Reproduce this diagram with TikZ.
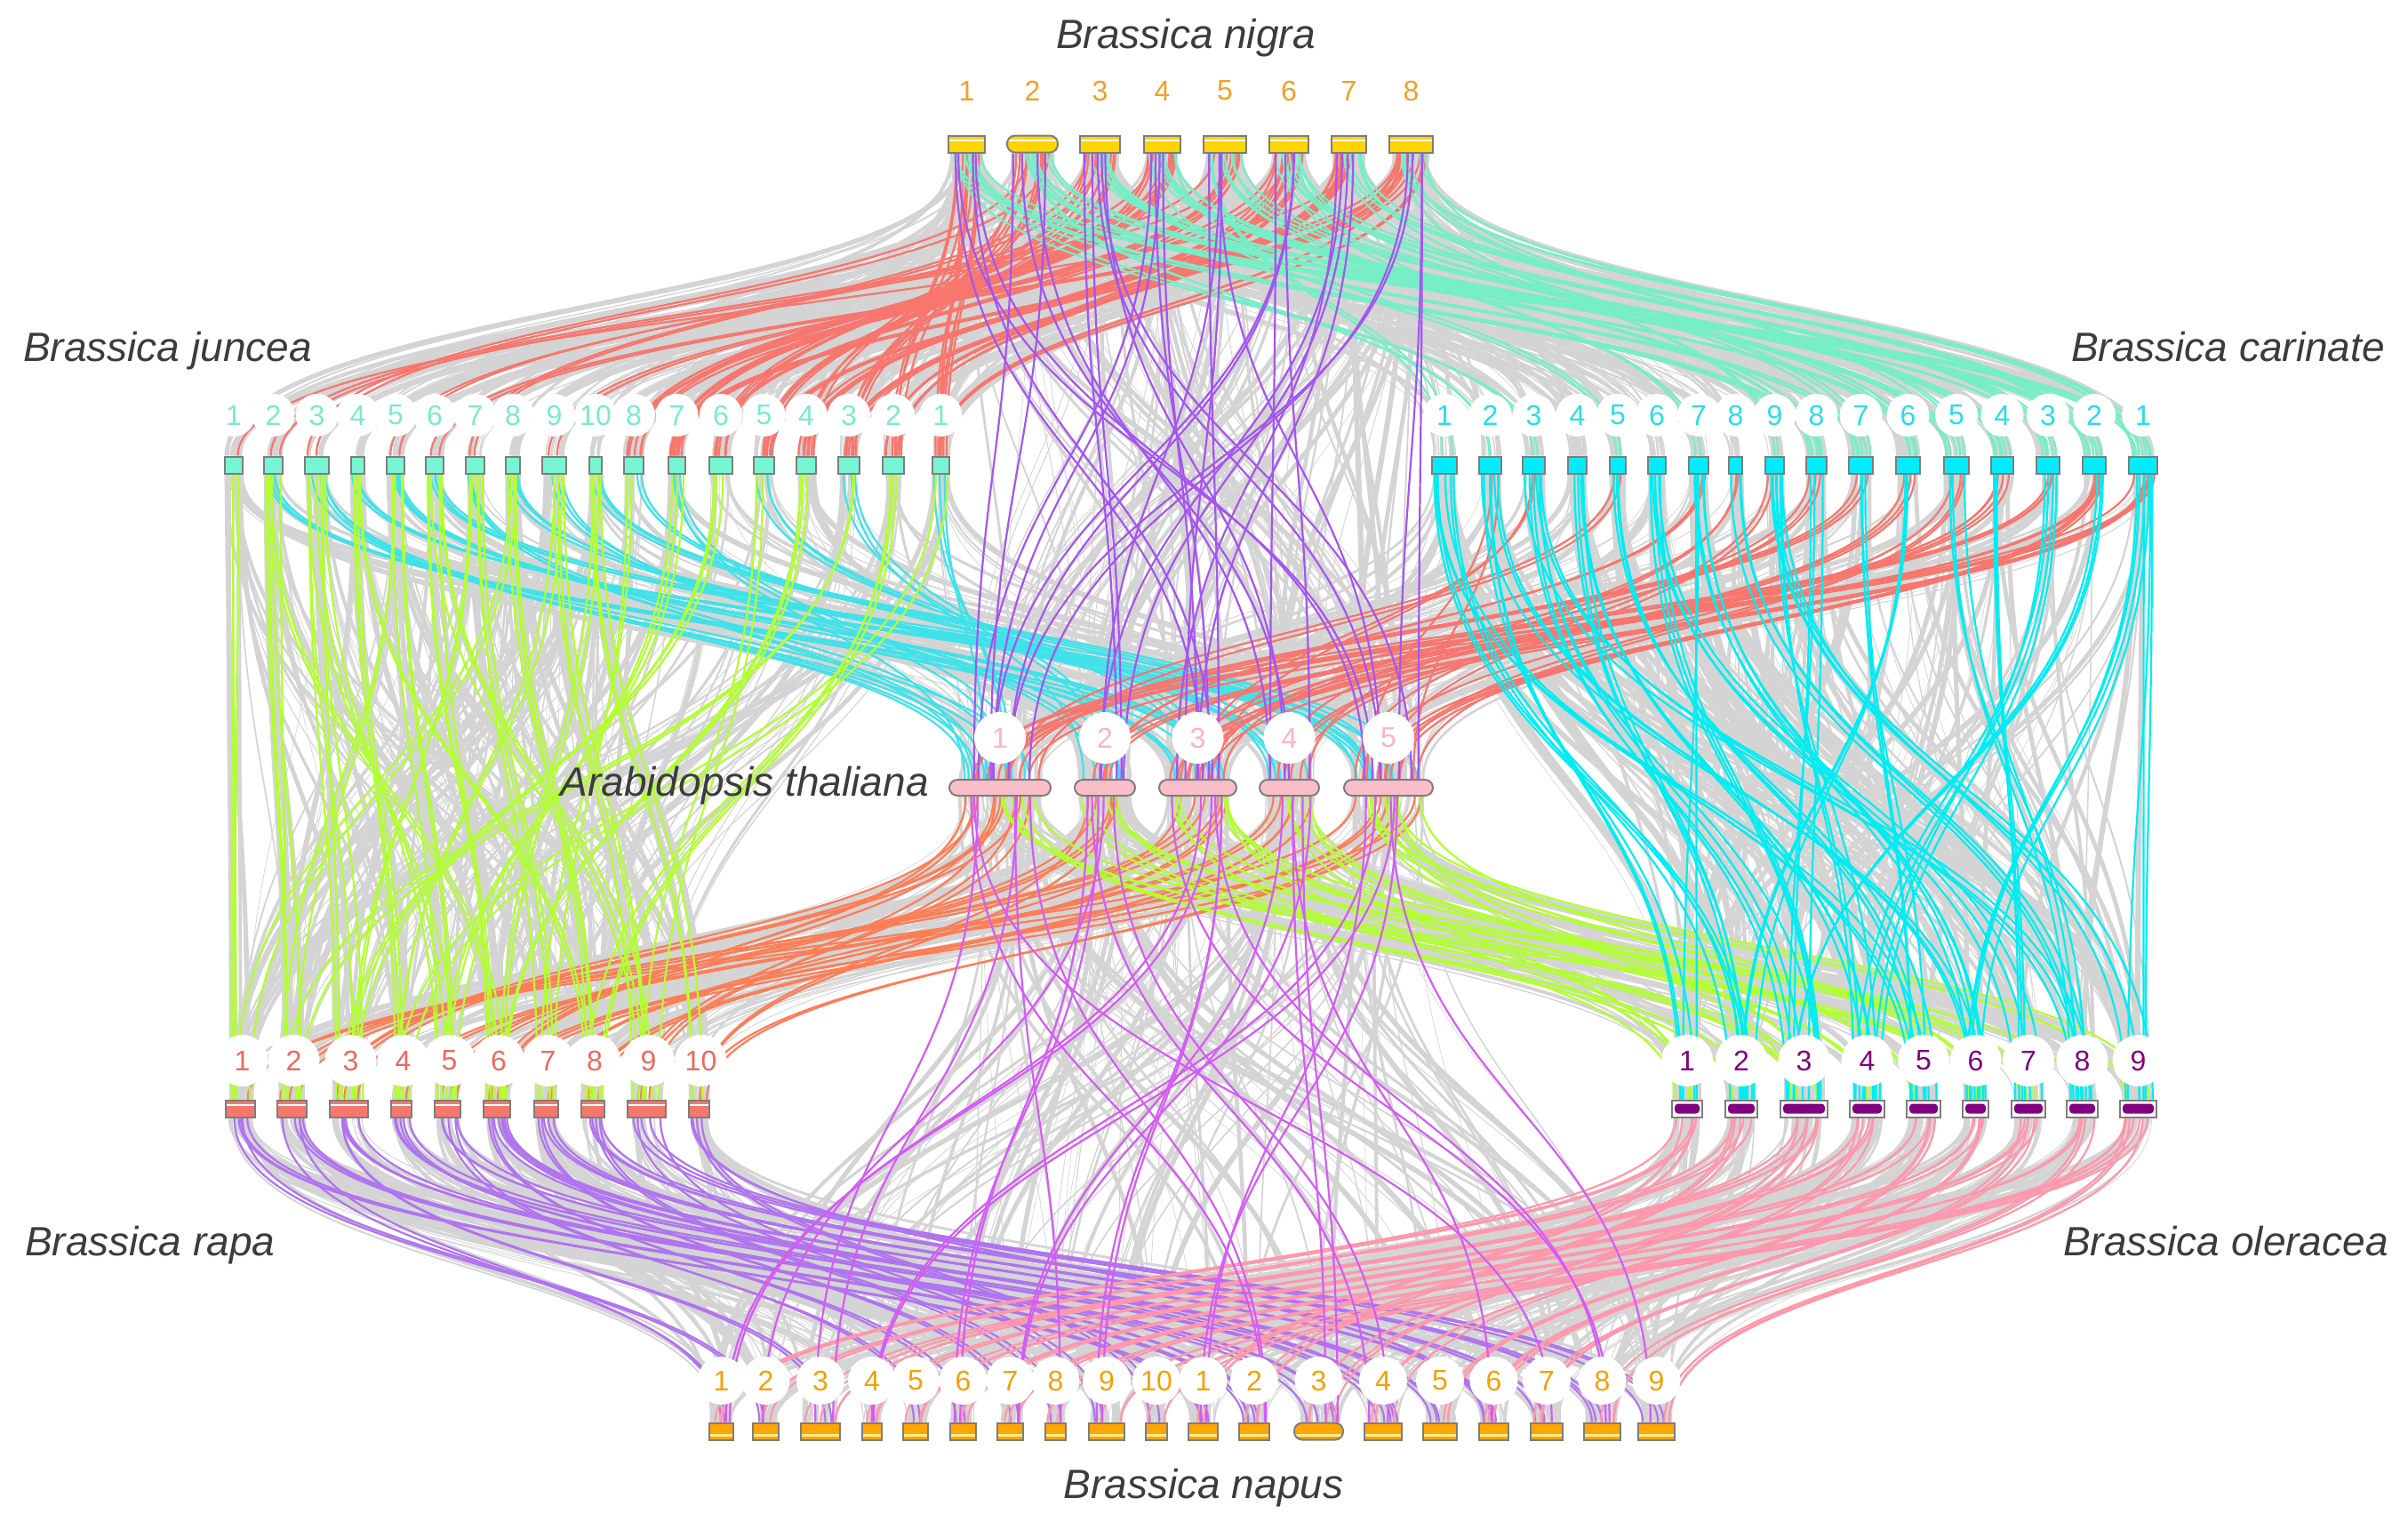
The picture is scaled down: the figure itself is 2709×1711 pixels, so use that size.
\documentclass[tikz,border=0pt]{standalone}
\usepackage{fontspec}
\setmainfont{Liberation Sans}
\usetikzlibrary{calc}
\pgfdeclarelayer{bgl}
\pgfdeclarelayer{links}
\pgfsetlayers{bgl,links,main}
\definecolor{bxg}{RGB}{125,125,125}
\definecolor{cgold}{RGB}{255,212,0}
\definecolor{caquab}{RGB}{120,245,210}
\definecolor{ccyanb}{RGB}{0,236,250}
\definecolor{cpinkb}{RGB}{250,190,200}
\definecolor{csalb}{RGB}{246,120,108}
\definecolor{cpurpb}{RGB}{128,0,128}
\definecolor{corange}{RGB}{255,165,0}
\definecolor{cyell}{RGB}{255,240,150}
\definecolor{ctxt}{RGB}{60,60,60}
\definecolor{lnig}{RGB}{240,160,40}
\definecolor{ljun}{RGB}{120,235,205}
\definecolor{lcar}{RGB}{40,222,232}
\definecolor{lara}{RGB}{250,182,192}
\definecolor{lrap}{RGB}{235,105,95}
\definecolor{lole}{RGB}{128,0,128}
\definecolor{lnap}{RGB}{245,160,0}
\definecolor{cgray}{RGB}{212,212,212}
\definecolor{cred}{RGB}{248,118,109}
\definecolor{caqua}{RGB}{118,238,198}
\definecolor{cpurp}{RGB}{165,85,240}
\definecolor{ccyan}{RGB}{64,226,234}
\definecolor{ccyan2}{RGB}{0,236,242}
\definecolor{cgy}{RGB}{178,255,50}
\definecolor{ccoral}{RGB}{255,125,85}
\definecolor{cmag}{RGB}{212,92,246}
\definecolor{cmpurp}{RGB}{176,116,240}
\definecolor{cpink}{RGB}{255,152,172}
\newcommand\gap{170}
% one bundle of links between two named chromosome nodes
\newcommand\cl[4]{%
  \foreach \k in {1,...,#2}{%
    \pgfmathsetmacro\ta{0.12+0.76*rnd}%
    \pgfmathsetmacro\tb{0.12+0.76*rnd}%
    \coordinate (s) at ($(#3.south west)!\ta!(#3.south east)$);%
    \coordinate (t) at ($(#4.north west)!\tb!(#4.north east)$);%
    \draw[#1] (s) .. controls ($(s)+(0,\gap)$) and ($(t)+(0,-\gap)$) .. (t);%
  }}
\newcommand\cls[2]{\foreach \pa/\pb/\pc in {#2}{\cl{#1}{\pc}{\pa}{\pb}}}
% random gray links between two rows of chromosomes
\newcommand\gb[7]{%
  \foreach \k in {1,...,#1}{%
    \pgfmathtruncatemacro\ia{random(#3,#4)}%
    \pgfmathtruncatemacro\ib{random(#6,#7)}%
    \pgfmathsetmacro\ta{0.1+0.8*rnd}%
    \pgfmathsetmacro\tb{0.1+0.8*rnd}%
    \pgfmathsetmacro\lw{0.6+5.5*pow(rnd,2)}%
    \coordinate (s) at ($(#2\ia.south west)!\ta!(#2\ia.south east)$);%
    \coordinate (t) at ($(#5\ib.north west)!\tb!(#5\ib.north east)$);%
    \draw[cgray,line width=\lw pt] (s) .. controls ($(s)+(0,\gap)$) and ($(t)+(0,-\gap)$) .. (t);%
  }}
\tikzset{
 stripe/.style={path picture={\draw[white,line width=2pt] ([yshift=-5pt]path picture bounding box.north west) -- ([yshift=-5pt]path picture bounding box.north east);}},
 nb/.style={draw=bxg, line width=2pt, fill=cgold, minimum height=19pt, inner sep=0pt, stripe},
 nbr/.style={nb, rounded corners=9pt},
 jb/.style={draw=bxg, line width=2pt, fill=caquab, minimum height=19pt, inner sep=0pt},
 cb/.style={jb, fill=ccyanb},
 ab/.style={draw=bxg, line width=2pt, fill=cpinkb, minimum height=18pt, inner sep=0pt, rounded corners=9pt},
 rb/.style={draw=bxg, line width=2pt, fill=csalb, minimum height=19pt, inner sep=0pt, stripe},
 ob/.style={draw=bxg, line width=2pt, fill=white, minimum height=19pt, inner sep=0pt, path picture={\fill[cpurpb, rounded corners=4pt] ([xshift=3pt,yshift=-4pt]path picture bounding box.north west) rectangle ([xshift=-3pt,yshift=4pt]path picture bounding box.south east);}},
 pb/.style={draw=bxg, line width=2pt, fill=corange, minimum height=19pt, inner sep=0pt, path picture={\draw[cyell,line width=2.5pt] ([yshift=5pt]path picture bounding box.south west) -- ([yshift=5pt]path picture bounding box.south east);}},
 pbr/.style={pb, rounded corners=9pt},
 lab/.style={inner sep=0pt, font=\fontsize{32}{34}\selectfont},
 halo/.style={lab, circle, fill=white, minimum size=#1},
 sp/.style={inner sep=0pt, font=\fontsize{46}{50}\selectfont\itshape, text=ctxt},
 lred/.style={draw=cred, line width=2.2pt},
 laqua/.style={draw=caqua, line width=2.2pt},
 lpurp/.style={draw=cpurp, line width=2.2pt},
 lcyan/.style={draw=ccyan, line width=2.2pt},
 lcyan2/.style={draw=ccyan2, line width=2.2pt},
 lgy/.style={draw=cgy, line width=2.2pt},
 lcoral/.style={draw=ccoral, line width=2.2pt},
 lmag/.style={draw=cmag, line width=2.2pt},
 lmpurp/.style={draw=cmpurp, line width=2.2pt},
 lpink/.style={draw=cpink, line width=2.2pt},
 lgray/.style={draw=cgray, line width=5pt},
}
\begin{document}
\begin{tikzpicture}[x=1pt,y=-1pt]
\pgfmathsetseed{7}
\begin{pgfonlayer}{bgl}
\fill[white] (0,0) rectangle (2709,1711);
\end{pgfonlayer}
\useasboundingbox (0,0) rectangle (2709,1711);
% ---------- chromosome boxes ----------
\foreach \x/\w/\s [count=\i] in {1087.5/41/nb, 1161.5/57/nbr, 1237.5/45/nb, 1307.5/41/nb, 1378/48/nb, 1450/44/nb, 1517.5/39/nb, 1587.5/49/nb}
  \node[\s, minimum width=\w pt] (n\i) at (\x,162) {};
\foreach \x/\w [count=\i] in {263/20, 307.5/21, 356.5/27, 402.5/15, 445/20, 489/20, 534.5/21, 577/16, 623.5/27, 670/14, 713/22, 761.5/19, 811/26, 859.5/23, 907/22, 955/24, 1005/24, 1058.5/19}
  \node[jb, minimum width=\w pt] (j\i) at (\x,523) {};
\foreach \x/\w [count=\i] in {1625/28, 1676.5/25, 1725.5/25, 1774.5/21, 1820/18, 1864/20, 1911/22, 1952.5/15, 1996.5/21, 2043.5/23, 2093.5/27, 2146.5/27, 2201/28, 2252.5/25, 2304/26, 2356/26, 2411/32}
  \node[cb, minimum width=\w pt] (c\i) at (\x,523) {};
\foreach \x/\w [count=\i] in {1125/114, 1243/68, 1347.5/87, 1450.5/67, 1562/100}
  \node[ab, minimum width=\w pt] (a\i) at (\x,886) {};
\foreach \x/\w [count=\i] in {270.5/33, 328.5/33, 392.5/43, 451.5/23, 503.5/29, 559/30, 614.5/27, 667/26, 727.5/43, 786.5/23}
  \node[rb, minimum width=\w pt] (r\i) at (\x,1247) {};
\foreach \x/\w [count=\i] in {1898/34, 1959/36, 2029.5/53, 2100.5/39, 2164/38, 2222.5/29, 2282/38, 2342.5/35, 2405.5/41}
  \node[ob, minimum width=\w pt] (o\i) at (\x,1247) {};
\foreach \x/\w/\s [count=\i] in {811.5/27/pb, 861.5/29/pb, 923/44/pb, 981/22/pb, 1030/28/pb, 1083.5/29/pb, 1136.5/29/pb, 1187.5/23/pb, 1245/40/pb, 1301/24/pb, 1353.5/33/pb, 1411/34/pb, 1483.5/55/pbr, 1556/42/pb, 1620/38/pb, 1680.5/33/pb, 1740/36/pb, 1802.5/41/pb, 1863.5/41/pb}
  \node[\s, minimum width=\w pt] (p\i) at (\x,1610) {};
% ---------- links ----------
\begin{pgfonlayer}{links}
\renewcommand\gap{171}
\gb{190}{n}{1}{8}{j}{1}{18}
\gb{80}{n}{1}{8}{j}{11}{18}
\gb{190}{n}{1}{8}{c}{1}{17}
\gb{80}{n}{1}{8}{c}{10}{17}
\gb{90}{j}{1}{18}{a}{1}{5}
\gb{90}{c}{1}{17}{a}{1}{5}
\gb{90}{a}{1}{5}{r}{1}{10}
\gb{90}{a}{1}{5}{o}{1}{9}
\gb{170}{r}{1}{10}{p}{1}{19}
\gb{170}{o}{1}{9}{p}{1}{19}
\renewcommand\gap{352}
\gb{120}{n}{1}{8}{a}{1}{5}
\gb{150}{j}{1}{10}{r}{1}{10}
\gb{60}{j}{11}{18}{r}{1}{10}
\gb{150}{c}{1}{9}{o}{1}{9}
\gb{70}{c}{10}{17}{o}{1}{9}
\gb{120}{a}{1}{5}{p}{1}{19}
\foreach \q in {1,...,10}{\cl{lgray}{3}{j\q}{r\q}}
\foreach \q in {1,...,9}{\cl{lgray}{3}{c\q}{o\q}}
% coloured links, short rows
\renewcommand\gap{171}
\cls{lred}{n1/j18/6, n1/j17/4, n2/j16/5, n2/j15/3, n3/j14/5, n3/j13/4, n4/j12/5, n4/j11/4, n5/j11/3, n5/j13/3, n6/j17/5, n6/j15/5, n7/j16/5, n7/j14/5, n8/j12/6, n8/j18/4, n2/j3/2, n5/j2/2, n8/j6/2, n6/j9/2, n4/j5/2, n7/j1/1, n3/j7/2}
\cls{laqua}{n1/c10/4, n1/c17/4, n2/c11/4, n2/c16/4, n3/c12/4, n3/c15/3, n4/c13/4, n4/c14/3, n5/c14/3, n5/c10/3, n6/c15/4, n6/c12/3, n7/c16/4, n7/c11/3, n8/c17/4, n8/c13/3, n2/c2/2, n4/c5/2, n6/c7/2, n8/c9/2, n1/c3/2, n5/c1/2}
\cls{lcyan}{j2/a3/4, j3/a1/5, j4/a5/4, j5/a3/5, j6/a5/4, j7/a1/3, j8/a4/4, j9/a2/3, j10/a5/3, j12/a1/3, j14/a3/3, j16/a2/3, j18/a1/3, j11/a4/2}
\cls{lred}{c17/a1/4, c17/a3/3, c16/a5/4, c16/a2/3, c15/a1/3, c14/a3/4, c13/a5/3, c12/a4/3, c11/a1/3, c10/a3/3, c9/a5/2, c7/a2/2, c5/a1/2, c3/a3/2, c2/a5/2, c8/a4/2}
\cls{lcoral}{a1/r3/4, a1/r6/3, a1/r9/3, a2/r5/3, a2/r10/2, a3/r2/3, a3/r7/3, a4/r8/3, a4/r4/2, a5/r1/2, a5/r6/3, a5/r10/2}
\cls{lgy}{a1/o2/3, a1/o6/3, a2/o3/3, a2/o8/2, a3/o4/3, a3/o7/3, a4/o1/2, a4/o5/3, a5/o9/3, a5/o3/3, a5/o6/3, a3/o1/2}
\cls{lmpurp}{r1/p11/3, r1/p2/2, r2/p12/3, r2/p1/2, r3/p13/4, r3/p3/2, r4/p14/3, r5/p15/3, r5/p5/2, r6/p16/4, r6/p6/2, r7/p17/3, r7/p7/2, r8/p18/3, r8/p8/2, r9/p19/3, r9/p9/2, r10/p16/2, r10/p10/2, r4/p12/2, r6/p14/2}
\cls{lpink}{o1/p1/3, o1/p11/3, o2/p2/3, o2/p12/3, o3/p3/4, o3/p13/4, o4/p4/3, o4/p14/3, o5/p5/3, o5/p15/3, o6/p6/3, o6/p16/3, o7/p7/3, o7/p17/3, o8/p8/3, o8/p18/3, o9/p9/3, o9/p19/3, o9/p10/2}
% coloured links, long rows
\renewcommand\gap{352}
\cls{lpurp}{n1/a3/2, n1/a5/2, n2/a1/2, n2/a4/2, n3/a2/2, n3/a5/2, n4/a1/2, n4/a3/2, n5/a3/2, n5/a5/1, n6/a1/2, n6/a4/2, n7/a2/2, n7/a3/2, n8/a1/2, n8/a5/2, n5/a2/1, n3/a4/1}
\cls{lgy}{j1/r1/3, j2/r2/4, j2/r6/2, j3/r3/4, j3/r5/3, j4/r4/3, j4/r8/2, j5/r5/3, j5/r2/2, j6/r6/3, j6/r9/3, j7/r7/3, j7/r3/2, j8/r8/3, j8/r1/2, j9/r9/3, j9/r4/2, j10/r10/3, j10/r6/2, j11/r7/2, j12/r5/3, j13/r3/3, j14/r9/2, j15/r6/3, j16/r2/2, j17/r8/3, j18/r4/2}
\cls{lcyan2}{c1/o2/4, c1/o5/3, c2/o1/3, c2/o6/3, c3/o3/4, c3/o8/3, c4/o4/3, c4/o2/3, c5/o5/3, c6/o7/3, c6/o3/3, c7/o6/4, c7/o1/2, c8/o8/3, c9/o9/4, c9/o4/3, c10/o3/3, c11/o5/3, c12/o2/3, c13/o8/3, c14/o7/3, c15/o4/4, c16/o3/3, c17/o6/4, c17/o9/3}
\cls{lmag}{a1/p3/2, a1/p12/2, a1/p17/1, a2/p6/2, a2/p14/2, a3/p1/2, a3/p9/2, a3/p18/2, a4/p7/2, a4/p13/2, a5/p4/2, a5/p11/2, a5/p19/1, a2/p2/1, a4/p16/1, a1/p8/1}
\end{pgfonlayer}
% ---------- labels ----------
\foreach \t [count=\i] in {1,2,3,4,5,6,7,8}
  \node[lab, text=lnig] (nl\i) at (n\i |- 0,102) {\t};
\foreach \t [count=\i] in {1,2,3,4,5,6,7,8,9,10,8,7,6,5,4,3,2,1}
  \node[halo=48pt, text=ljun] (jl\i) at (j\i |- 0,467) {\t};
\foreach \t [count=\i] in {1,2,3,4,5,6,7,8,9,8,7,6,5,4,3,2,1}
  \node[halo=48pt, text=lcar] (cl\i) at (c\i |- 0,467) {\t};
\foreach \t [count=\i] in {1,2,3,4,5}
  \node[halo=58pt, text=lara] (al\i) at (a\i |- 0,830) {\t};
\foreach \t [count=\i] in {1,2,3,4,5,6,7,8,9,10}
  \node[halo=58pt, text=lrap] (rl\i) at ([xshift=2pt]r\i |- 0,1193) {\t};
\foreach \t [count=\i] in {1,2,3,4,5,6,7,8,9}
  \node[halo=58pt, text=lole] (ol\i) at (o\i |- 0,1193) {\t};
\foreach \t [count=\i] in {1,2,3,4,5,6,7,8,9,10,1,2,3,4,5,6,7,8,9}
  \node[halo=54pt, text=lnap] (pl\i) at (p\i |- 0,1553) {\t};
% ---------- species names ----------
\node[sp, anchor=base] (tn) at (1334,54) {Brassica nigra};
\node[sp, anchor=base west] (tj) at (26,406) {Brassica juncea};
\node[sp, anchor=base east] (tc) at (2683,406) {Brassica carinate};
\node[sp, anchor=base east] (ta) at (1045,895) {Arabidopsis thaliana};
\node[sp, anchor=base west] (tr) at (28,1412) {Brassica rapa};
\node[sp, anchor=base east] (to) at (2687,1412) {Brassica oleracea};
\node[sp, anchor=base] (tp) at (1354,1685) {Brassica napus};
\end{tikzpicture}
\end{document}
